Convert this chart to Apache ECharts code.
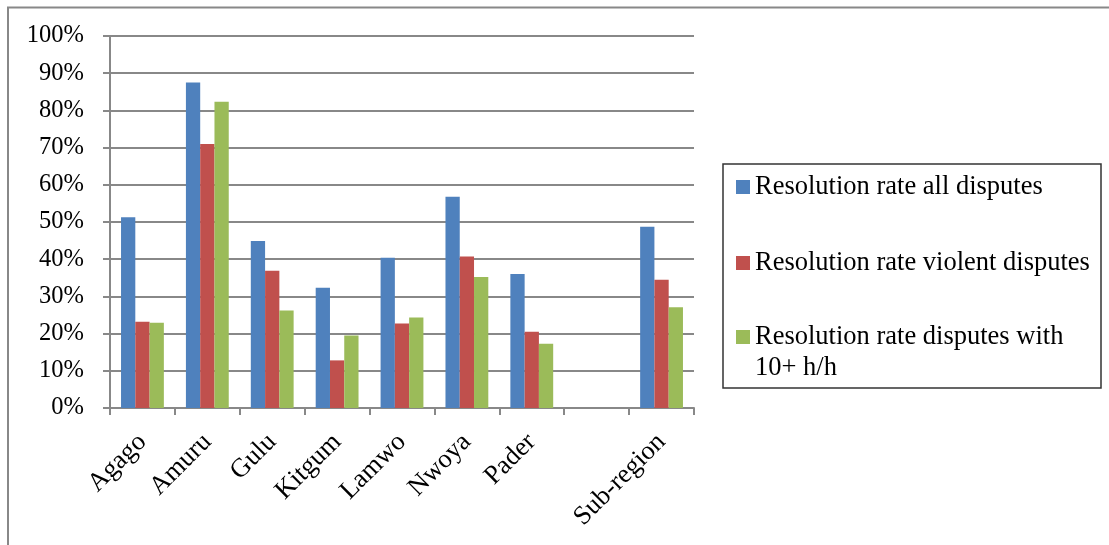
<!DOCTYPE html>
<html><head><meta charset="utf-8">
<script src="https://cdn.jsdelivr.net/npm/echarts@6/dist/echarts.min.js"></script>
<style>html,body{margin:0;padding:0;background:#fff;overflow:hidden}#c{width:1109px;height:545px}</style>
</head><body><div id="c"></div>
<script>
const categories = ['Agago', 'Amuru', 'Gulu', 'Kitgum', 'Lamwo', 'Nwoya', 'Pader', '', 'Sub-region'];
const seriesNames = ['Resolution rate all disputes', 'Resolution rate violent disputes', 'Resolution rate disputes with 10+ h/h'];
const allDisputes = [51.3, 87.5, 44.9, 32.3, 40.4, 56.8, 36.0, null, 48.7];
const violentDisputes = [23.2, 71.0, 36.9, 12.8, 22.7, 40.7, 20.5, null, 34.5];
const disputes10hh = [22.9, 82.3, 26.2, 19.5, 24.3, 35.2, 17.3, null, 27.1];
const colors = ['#4F81BD', '#C0504D', '#9BBB59'];

const FONT = '"Liberation Serif", "Times New Roman", serif';
const chart = echarts.init(document.getElementById('c'), null, {renderer: 'canvas'});

function legendFor(i, top) {
  return {
    show: true,
    orient: 'vertical',
    left: 736,
    top: top,
    padding: 0,
    itemWidth: 14,
    itemHeight: 14,
    icon: 'rect',
    data: [seriesNames[i]],
    formatter: function (n) { return n === seriesNames[2] ? ' \nResolution rate disputes with\n10+ h/h' : n; },
    textStyle: {fontFamily: FONT, fontSize: 26.5, color: '#000', lineHeight: 31},
    selectedMode: false
  };
}

chart.setOption({
  animation: false,
  color: colors,
  grid: {left: 110, right: 415, top: 36, bottom: 137, containLabel: false},
  legend: [legendFor(0, 171.5), legendFor(1, 247.5), legendFor(2, 290.5)],
  graphic: [
    {type: 'rect', shape: {x: 8, y: 7.5, width: 1200, height: 700}, style: {fill: 'none', stroke: '#888', lineWidth: 2}, silent: true},
    {type: 'rect', shape: {x: 723, y: 164, width: 378, height: 224}, style: {fill: 'none', stroke: '#333', lineWidth: 1.5}, silent: true}
  ],
  xAxis: {
    type: 'category',
    data: categories,
    boundaryGap: true,
    axisLine: {lineStyle: {color: '#888', width: 2}},
    axisTick: {show: true, length: 7, lineStyle: {color: '#888', width: 2}},
    axisLabel: {interval: 0, rotate: 45, margin: 30, fontFamily: FONT, fontSize: 26.5, color: '#000'}
  },
  yAxis: {
    type: 'value',
    min: 0, max: 100, interval: 10,
    axisLine: {show: true, lineStyle: {color: '#888', width: 2}},
    axisTick: {show: true, length: 7, lineStyle: {color: '#888', width: 2}},
    splitLine: {lineStyle: {color: '#888', width: 2}},
    axisLabel: {formatter: '{value}%', margin: 26, fontFamily: FONT, fontSize: 24.5, color: '#000'}
  },
  series: [
    {name: seriesNames[0], type: 'bar', data: allDisputes, barGap: '0%', barCategoryGap: '34%'},
    {name: seriesNames[1], type: 'bar', data: violentDisputes, barGap: '0%', barCategoryGap: '34%'},
    {name: seriesNames[2], type: 'bar', data: disputes10hh, barGap: '0%', barCategoryGap: '34%'}
  ]
});
</script>
</body></html>
